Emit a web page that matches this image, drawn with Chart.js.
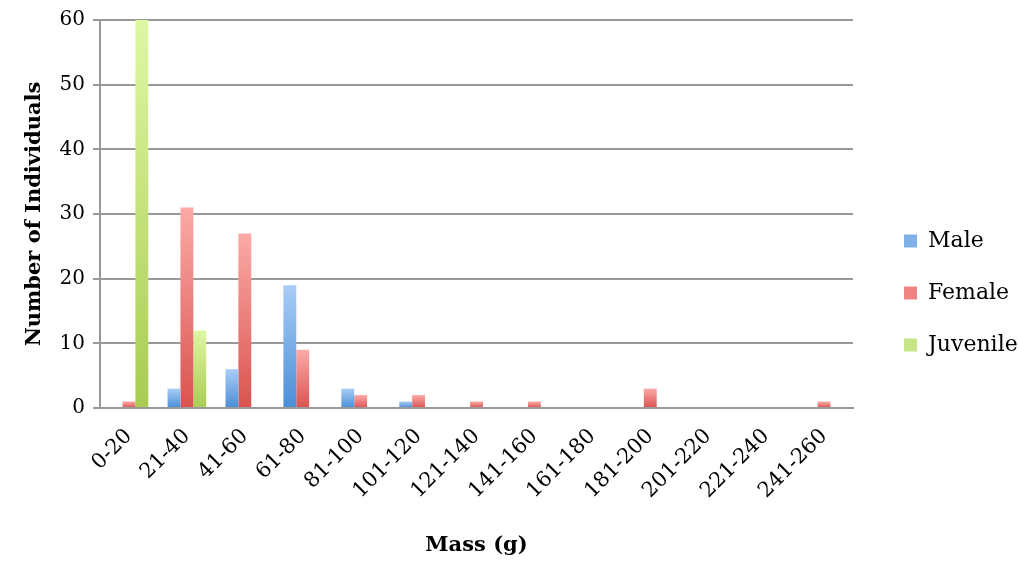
<!DOCTYPE html>
<html lang="en">
<head>
  <meta charset="UTF-8" />
  <title>Mass distribution</title>
  <script src="https://cdn.jsdelivr.net/npm/chart.js"></script>
  <style>
    * { margin: 0; padding: 0; box-sizing: border-box; }
    body { background: #fff; width: 1019px; height: 562px; overflow: hidden; }
    .wrap { position: relative; width: 1019px; height: 562px; }
  </style>
</head>
<body>
<div class="wrap"><canvas id="massChart"></canvas></div>

<script>
  const categories = ['0-20', '21-40', '41-60', '61-80', '81-100', '101-120', '121-140',
                      '141-160', '161-180', '181-200', '201-220', '221-240', '241-260'];
  const male     = [0, 3, 6, 19, 3, 1, 0, 0, 0, 0, 0, 0, 0];
  const female   = [1, 31, 27, 9, 2, 2, 1, 1, 0, 3, 0, 0, 1];
  const juvenile = [60, 12, 0, 0, 0, 0, 0, 0, 0, 0, 0, 0, 0];
  const yTicks   = [0, 10, 20, 30, 40, 50, 60];

  const FONT = "'DejaVu Serif', 'Liberation Serif', serif";

  // light at the top of each bar, darker at its base
  function barGradient(top, bottom) {
    return (ctx) => {
      const chart = ctx.chart;
      if (!chart.chartArea || ctx.raw === undefined) return bottom;
      const y = chart.scales.y;
      const y0 = y.getPixelForValue(0), y1 = y.getPixelForValue(ctx.raw);
      if (y0 - y1 < 1) return bottom;
      const g = chart.ctx.createLinearGradient(0, y1, 0, y0);
      g.addColorStop(0, top);
      g.addColorStop(1, bottom);
      return g;
    };
  }

  // keep the legend column a fixed width, and nudge it a bit
  const legendBox = {
    id: 'legendBox',
    afterInit(chart) {
      const lg = chart.legend;
      if (!lg) return;
      const fit = lg.fit;
      lg.fit = function () { fit.call(this); this.width = 166; };
    },
    afterLayout(chart) {
      const lg = chart.legend;
      if (!lg) return;
      lg.left += 21; lg.right += 21;
      lg.top += 5; lg.bottom += 5;
    }
  };

  new Chart(document.getElementById('massChart'), {
    type: 'bar',
    data: {
      labels: categories,
      datasets: [
        { label: 'Male', data: male, backgroundColor: barGradient('#a9cdf6', '#4a8ed6') },
        { label: 'Female', data: female, backgroundColor: barGradient('#fbaaa7', '#da5350') },
        { label: 'Juvenile', data: juvenile, backgroundColor: barGradient('#def7a3', '#a9cc52') }
      ]
    },
    plugins: [legendBox],
    options: {
      responsive: true,
      maintainAspectRatio: false,
      animation: false,
      datasets: { bar: { categoryPercentage: 0.667, barPercentage: 1.0, borderWidth: 0 } },
      layout: { padding: { top: 14, left: 0, right: 0, bottom: 0 } },
      plugins: {
        tooltip: { enabled: false },
        legend: {
          position: 'right',
          align: 'center',
          labels: {
            font: { family: FONT, size: 22 },
            color: '#000',
            boxWidth: 13,
            boxHeight: 13,
            padding: 30,
            generateLabels: (chart) => {
              const cols = ['#7fb0e8', '#ef8582', '#c6e586'];
              return chart.data.datasets.map((d, i) => ({
                text: d.label, fillStyle: cols[i], strokeStyle: cols[i], lineWidth: 0,
                fontColor: '#000', datasetIndex: i, hidden: false
              }));
            }
          }
        }
      },
      scales: {
        x: {
          grid: { display: false, drawTicks: false },
          border: { color: '#999', width: 2 },
          ticks: {
            font: { family: FONT, size: 21 }, color: '#000',
            minRotation: 45, maxRotation: 45, padding: 16, autoSkip: false
          },
          title: {
            display: true, text: 'Mass (g)', color: '#000',
            font: { family: FONT, size: 21, weight: 'bold' }, padding: { top: 10 }
          },
          afterFit: (s) => { s.height = 154; }
        },
        y: {
          min: 0, max: 60,
          afterBuildTicks: (s) => { s.ticks = yTicks.map(v => ({ value: v })); },
          grid: { color: '#999', lineWidth: 2, tickLength: 7, tickColor: '#999' },
          border: { color: '#999', width: 2 },
          ticks: { font: { family: FONT, size: 20 }, color: '#000', padding: 8 },
          title: {
            display: true, text: 'Number of Individuals', color: '#000',
            font: { family: FONT, size: 21, weight: 'bold' }, padding: { top: 22, bottom: 0 }
          },
          afterFit: (s) => { s.width = 100; }
        }
      }
    }
  });
</script>
</body>
</html>
